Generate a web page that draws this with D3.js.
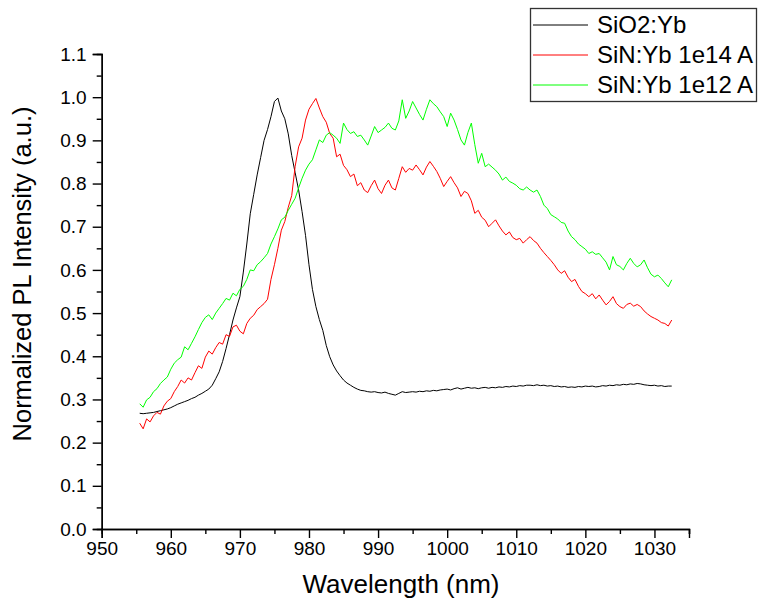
<!DOCTYPE html>
<html>
<head>
<meta charset="utf-8">
<script src="https://cdn.jsdelivr.net/npm/d3@7"></script>
<style>
body { margin: 0; background: #fff; }
svg { font-family: "Liberation Sans", Arial, sans-serif; }
.axis path, .axis line { stroke: #000; stroke-width: 1.4; }
.axis text { font-size: 19px; fill: #000; }
</style>
</head>
<body>
<script>
//spectra sampled every 0.5 nm from 955.5 to 1032.5 nm
var wlStart = 955.5, wlStep = 0.5;

var sio2 = [
    0.268,0.267,0.268,0.269,0.270,0.272,0.274,0.276,0.278,0.281,
    0.285,0.289,0.292,0.295,0.298,0.302,0.305,0.310,0.314,0.319,
    0.324,0.333,0.348,0.364,0.388,0.418,0.450,0.484,0.512,0.538,
    0.595,0.660,0.730,0.775,0.820,0.860,0.900,0.925,0.955,0.990,
    0.998,0.968,0.950,0.915,0.865,0.825,0.785,0.735,0.680,0.612,
    0.555,0.515,0.485,0.460,0.425,0.399,0.380,0.366,0.355,0.345,
    0.338,0.333,0.328,0.324,0.321,0.320,0.318,0.317,0.318,0.316,
    0.315,0.317,0.314,0.312,0.310,0.314,0.318,0.316,0.317,0.318,
    0.317,0.319,0.318,0.320,0.319,0.321,0.320,0.322,0.323,0.324,
    0.322,0.325,0.327,0.324,0.326,0.328,0.326,0.327,0.325,0.327,
    0.328,0.326,0.328,0.327,0.329,0.328,0.330,0.329,0.331,0.330,
    0.332,0.331,0.333,0.333,0.332,0.334,0.332,0.333,0.331,0.332,
    0.330,0.331,0.329,0.330,0.328,0.329,0.328,0.330,0.329,0.331,
    0.330,0.331,0.329,0.330,0.332,0.331,0.333,0.332,0.334,0.333,
    0.335,0.334,0.336,0.335,0.337,0.336,0.334,0.333,0.332,0.333,
    0.331,0.332,0.330,0.331,0.331
];

var sin14 = [
    0.245,0.232,0.255,0.248,0.262,0.270,0.266,0.285,0.296,0.302,
    0.318,0.330,0.345,0.338,0.350,0.345,0.362,0.378,0.372,0.398,
    0.412,0.405,0.420,0.432,0.428,0.450,0.446,0.468,0.472,0.458,
    0.452,0.476,0.488,0.495,0.508,0.515,0.522,0.532,0.578,0.612,
    0.650,0.692,0.712,0.745,0.772,0.840,0.885,0.905,0.947,0.972,
    0.985,0.997,0.975,0.955,0.942,0.916,0.905,0.862,0.868,0.842,
    0.832,0.816,0.822,0.795,0.802,0.785,0.779,0.795,0.808,0.788,
    0.777,0.796,0.808,0.790,0.785,0.812,0.839,0.826,0.835,0.831,
    0.843,0.832,0.820,0.838,0.851,0.840,0.828,0.812,0.793,0.805,
    0.816,0.802,0.790,0.770,0.782,0.777,0.760,0.731,0.738,0.722,
    0.715,0.700,0.708,0.716,0.702,0.690,0.681,0.688,0.675,0.670,
    0.673,0.662,0.670,0.677,0.668,0.662,0.650,0.640,0.631,0.622,
    0.612,0.600,0.592,0.598,0.583,0.573,0.578,0.562,0.550,0.545,
    0.538,0.545,0.533,0.542,0.530,0.519,0.527,0.538,0.522,0.515,
    0.511,0.520,0.523,0.516,0.520,0.515,0.505,0.498,0.492,0.488,
    0.484,0.478,0.476,0.470,0.484
];

var sin12 = [
    0.290,0.282,0.299,0.305,0.318,0.325,0.337,0.345,0.352,0.370,
    0.384,0.392,0.398,0.422,0.415,0.430,0.445,0.462,0.478,0.490,
    0.496,0.485,0.500,0.511,0.522,0.534,0.530,0.546,0.540,0.555,
    0.562,0.578,0.600,0.598,0.612,0.619,0.628,0.638,0.660,0.677,
    0.695,0.716,0.722,0.738,0.752,0.766,0.790,0.812,0.831,0.845,
    0.855,0.878,0.901,0.895,0.912,0.918,0.912,0.905,0.893,0.940,
    0.925,0.916,0.920,0.909,0.912,0.901,0.889,0.910,0.932,0.918,
    0.924,0.930,0.940,0.928,0.924,0.945,0.994,0.951,0.968,0.990,
    0.975,0.960,0.947,0.972,0.994,0.985,0.978,0.966,0.955,0.932,
    0.963,0.947,0.925,0.901,0.889,0.918,0.940,0.890,0.847,0.870,
    0.839,0.845,0.838,0.831,0.822,0.808,0.815,0.805,0.801,0.796,
    0.788,0.785,0.792,0.785,0.780,0.785,0.770,0.750,0.742,0.728,
    0.723,0.718,0.710,0.708,0.690,0.677,0.670,0.660,0.654,0.648,
    0.638,0.642,0.636,0.638,0.628,0.618,0.600,0.631,0.612,0.608,
    0.600,0.615,0.627,0.615,0.607,0.612,0.623,0.605,0.590,0.584,
    0.588,0.580,0.570,0.561,0.577
];

var seriesNames = ["SiO2:Yb", "SiN:Yb 1e14 A", "SiN:Yb 1e12 A"];
var seriesColors = ["#000000", "#ff0000", "#00ff00"];
var xTicks = [950, 960, 970, 980, 990, 1000, 1010, 1020, 1030];
var yTicks = [0.0, 0.1, 0.2, 0.3, 0.4, 0.5, 0.6, 0.7, 0.8, 0.9, 1.0, 1.1];

var width = 759, height = 603;

var svg = d3.select("body").append("svg")
    .attr("width", width)
    .attr("height", height);

var x = d3.scaleLinear().domain([950, 1035]).range([101.7, 689]);
var y = d3.scaleLinear().domain([0, 1.1]).range([529, 54]);

//minor ticks first, then the labelled ones
svg.append("g")
    .attr("class", "axis")
    .attr("transform", "translate(0,529)")
    .call(d3.axisBottom(x).tickValues(d3.range(955, 1036, 10)).tickSize(5).tickFormat(""));
svg.append("g")
    .attr("class", "axis")
    .attr("transform", "translate(0,529)")
    .call(d3.axisBottom(x).tickValues(xTicks).tickSize(9).tickSizeOuter(9).tickPadding(4).tickFormat(d3.format("d")));

svg.append("g")
    .attr("class", "axis")
    .attr("transform", "translate(101.7,0)")
    .call(d3.axisLeft(y).tickValues(d3.range(0.05, 1.1, 0.1)).tickSize(5).tickFormat(""));
svg.append("g")
    .attr("class", "axis")
    .attr("transform", "translate(101.7,0)")
    .call(d3.axisLeft(y).tickValues(yTicks).tickSize(9).tickSizeOuter(9).tickPadding(6).tickFormat(d3.format(".1f")));

//axis titles
svg.append("text")
    .attr("x", 401)
    .attr("y", 593)
    .attr("text-anchor", "middle")
    .style("font-size", "26px")
    .text("Wavelength (nm)");

svg.append("text")
    .attr("transform", "translate(31,274) rotate(-90)")
    .attr("text-anchor", "middle")
    .style("font-size", "25.5px")
    .text("Normalized PL Intensity (a.u.)");

//spectra
var line = d3.line()
    .x(function(d, i){ return x(wlStart + i * wlStep); })
    .y(function(d){ return y(d); });

[sio2, sin14, sin12].forEach(function(s, k){
    svg.append("path")
        .datum(s)
        .attr("fill", "none")
        .attr("stroke", seriesColors[k])
        .attr("stroke-width", 1)
        .attr("d", line);
});

//legend
var legend = svg.append("g");
legend.append("rect")
    .attr("x", 530.5).attr("y", 8.5)
    .attr("width", 226).attr("height", 93)
    .attr("fill", "#fff")
    .attr("stroke", "#333")
    .attr("stroke-width", 1.3);

seriesNames.forEach(function(name, k){
    var ly = 25 + k * 30;
    legend.append("line")
        .attr("x1", 533).attr("x2", 588)
        .attr("y1", ly).attr("y2", ly)
        .attr("stroke", seriesColors[k])
        .attr("stroke-width", 1);
    legend.append("text")
        .attr("x", 597).attr("y", ly + 8)
        .style("font-size", "24px")
        .text(name);
});
</script>
</body>
</html>
